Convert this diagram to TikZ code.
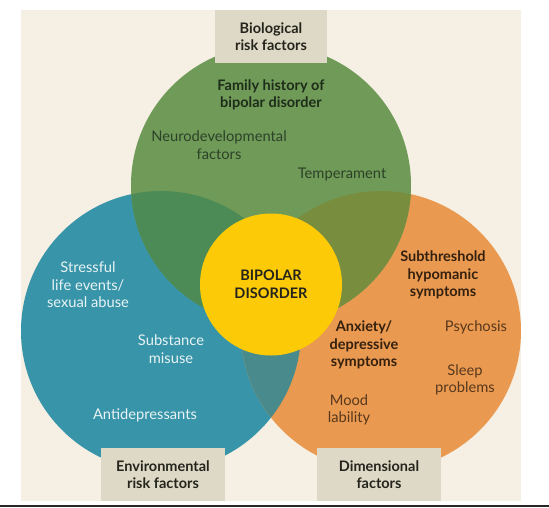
\documentclass[tikz,border=0pt]{standalone}
\usepackage{fontspec}
\setmainfont{Lato}
\usepackage{xcolor}
\definecolor{pagebg}{RGB}{245,239,228}
\definecolor{boxbg}{RGB}{222,217,198}
\definecolor{biogreen}{RGB}{112,154,88}
\definecolor{envblue}{RGB}{56,148,168}
\definecolor{dimorange}{RGB}{233,153,80}
\definecolor{coreyellow}{RGB}{253,202,8}
\definecolor{greenblue}{RGB}{76,139,86}
\definecolor{greenorange}{RGB}{121,141,63}
\definecolor{blueorange}{RGB}{73,139,140}
\definecolor{darktext}{RGB}{36,36,28}
\definecolor{greenhead}{RGB}{30,44,26}
\definecolor{greentext}{RGB}{44,66,40}
\definecolor{bluetext}{RGB}{232,243,245}
\definecolor{orangehead}{RGB}{52,32,14}
\definecolor{orangetext}{RGB}{88,56,28}
\usepackage{tikz}
\usetikzlibrary{positioning,calc}

\begin{document}
\begin{tikzpicture}[
  x=1pt, y=-1pt,
  bigcircle/.style={radius=140pt},
  labelbox/.style={fill=boxbg, text=darktext, font=\bfseries\fontsize{14.5}{17.5}\selectfont, align=center, inner sep=0pt, minimum height=53pt},
  heading/.style={font=\bfseries\fontsize{14.5}{17.5}\selectfont, align=center, inner sep=0pt},
  plain/.style={font=\fontsize{14.7}{17.5}\selectfont, align=center, inner sep=0pt},
  core/.style={circle, fill=coreyellow, minimum size=142pt, inner sep=0pt, text=darktext, font=\bfseries\fontsize{14.5}{17.5}\selectfont, align=center}
]
\useasboundingbox (0,0) rectangle (549,507);
\fill[pagebg] (21,10) rectangle (521,501);
\fill[black!85] (0,504.5) rectangle (549,507);

\coordinate (bioc) at (271,185);
\coordinate (envc) at (161,331);
\coordinate (dimc) at (381,331);

\fill[envblue] (envc) circle[bigcircle];
\fill[dimorange] (dimc) circle[bigcircle];
\fill[biogreen] (bioc) circle[bigcircle];
\begin{scope}
  \clip (envc) circle[bigcircle];
  \fill[greenblue] (bioc) circle[bigcircle];
  \fill[blueorange] (dimc) circle[bigcircle];
\end{scope}
\begin{scope}
  \clip (dimc) circle[bigcircle];
  \fill[greenorange] (bioc) circle[bigcircle];
\end{scope}

\node[labelbox, minimum width=112pt] (bio) at (271,36.5) {Biological\\risk factors};
\node[labelbox, minimum width=124pt] (env) at (163,474.5) {Environmental\\risk factors};
\node[labelbox, minimum width=124pt] (dim) at (379,474.5) {Dimensional\\factors};

\node[core] (bipolar) at (271,284.5) {BIPOLAR\\DISORDER};

\node[heading, text=greenhead] (famhist) at (271,95) {Family history of\\bipolar disorder};
\node[plain, text=greentext] (neuro) at (219,145) {Neurodevelopmental\\factors};
\node[plain, text=greentext] (temper) at (342,174) {Temperament};

\node[plain, text=bluetext] (stress) at (88,285) {Stressful\\life events/\\sexual abuse};
\node[plain, text=bluetext] (subst) at (171,349) {Substance\\misuse};
\node[plain, text=bluetext] (antidep) at (145,415) {Antidepressants};

\node[heading, text=orangehead] (subthr) at (443,275) {Subthreshold\\hypomanic\\symptoms};
\node[heading, text=orangehead] (anxiety) at (364,345) {Anxiety/\\depressive\\symptoms};
\node[plain, text=orangetext] (psych) at (476,327) {Psychosis};
\node[plain, text=orangetext] (sleep) at (465,380) {Sleep\\problems};
\node[plain, text=orangetext] (mood) at (349,410) {Mood\\lability};
\end{tikzpicture}
\end{document}
